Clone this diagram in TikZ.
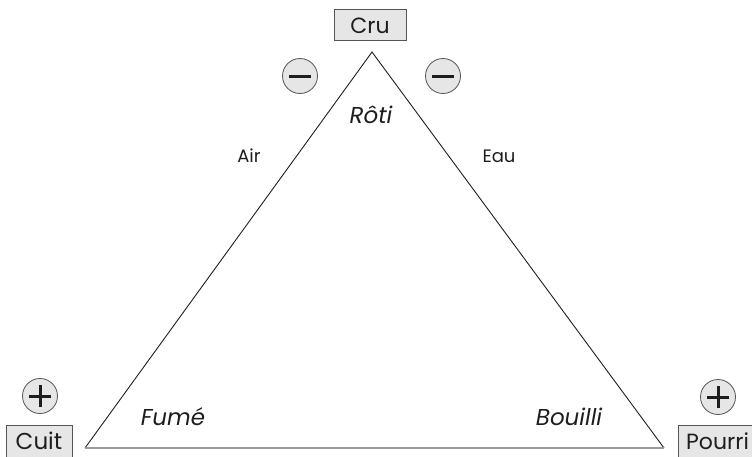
\documentclass[tikz,border=0pt]{standalone}
\usepackage{fontspec}
\setmainfont{Poppins}
\definecolor{boxfill}{HTML}{E6E6E6}
\definecolor{boxline}{HTML}{555555}
\definecolor{basegray}{HTML}{9A9A9A}
\definecolor{ink}{HTML}{1E1E1E}
\begin{document}
\begin{tikzpicture}[x=1pt,y=-1pt,
  lbl/.style={inner sep=0pt, anchor=base, text=ink, font=\fontsize{18}{20}\selectfont},
  tag/.style={draw=boxline, fill=boxfill, line width=0.8pt, inner sep=0pt},
  tagtext/.style={inner sep=0pt, anchor=base, text=ink},
  dish/.style={inner sep=0pt, anchor=base, text=ink, font=\itshape\fontsize{23}{26}\selectfont},
  sign/.style={circle, draw=boxline, fill=boxfill, line width=0.8pt, minimum size=35pt, inner sep=0pt},
  bar/.style={line width=3pt, ink}
]
\useasboundingbox (0,0) rectangle (752,456);
\coordinate (top) at (372,52);
\coordinate (bl) at (85,448);
\coordinate (br) at (664,448);
\draw[line width=0.9pt, ink] (bl) -- (top) -- (br);
\draw[line width=1.5pt, basegray] (bl) -- (br);

% boxes
\draw[tag] (334,9) rectangle (406,40);
\node[tagtext, font=\fontsize{22}{24}\selectfont] (cru) at (370,33) {Cru};
\draw[tag] (6,425) rectangle (72,470);
\node[tagtext, font=\fontsize{23}{25}\selectfont] (cuit) at (39,449) {Cuit};
\draw[tag] (678,425) rectangle (770,470);
\node[tagtext, font=\fontsize{22}{24}\selectfont, anchor=base west] (pourri) at (686,449) {Pourri};

% signs
\node[sign] (m1) at (300,76) {};
\node[sign] (m2) at (443,76) {};
\node[sign] (p1) at (40,396) {};
\node[sign] (p2) at (718,397) {};
\foreach \n in {m1,m2,p1,p2} {
  \draw[bar] ([xshift=-11pt]\n.center) -- ([xshift=11pt]\n.center);
}
\foreach \n in {p1,p2} {
  \draw[bar] ([yshift=-11pt]\n.center) -- ([yshift=11pt]\n.center);
}

% labels
\node[dish] (roti) at (371,123) {Rôti};
\node[dish] (fume) at (173,425) {Fumé};
\node[dish] (bouilli) at (569,425) {Bouilli};
\node[lbl] (air) at (249,162) {Air};
\node[lbl] (eau) at (499,162) {Eau};
\end{tikzpicture}
\end{document}
